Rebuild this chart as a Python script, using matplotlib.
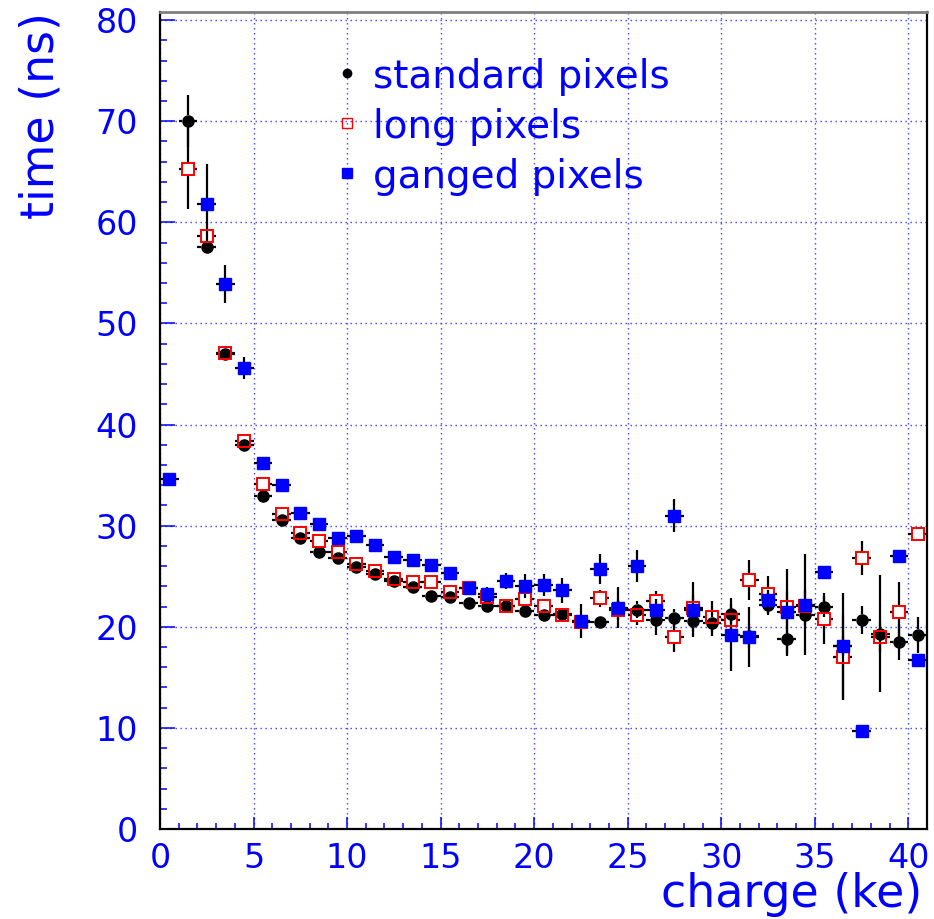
import numpy as np
import matplotlib
matplotlib.use("Agg")
import matplotlib.pyplot as plt
from matplotlib.collections import LineCollection
from matplotlib.ticker import MultipleLocator

# bin centres of the charge histogram (ke)
charge = [0.5, 1.5, 2.5, 3.5, 4.5, 5.5, 6.5, 7.5, 8.5, 9.5,
          10.5, 11.5, 12.5, 13.5, 14.5, 15.5, 16.5, 17.5, 18.5, 19.5,
          20.5, 21.5, 22.5, 23.5, 24.5, 25.5, 26.5, 27.5, 28.5, 29.5,
          30.5, 31.5, 32.5, 33.5, 34.5, 35.5, 36.5, 37.5, 38.5, 39.5,
          40.5]
nan = np.nan

# mean time (ns) and its error per bin
t_standard = [nan, 70.0, 57.6, 47.0, 38.0, 32.9, 30.6, 28.8, 27.4, 26.8,
              25.9, 25.2, 24.5, 23.9, 23.0, 22.9, 22.4, 22.1, 22.1, 21.6,
              21.2, 21.3, 20.6, 20.5, 21.8, 21.7, 20.7, 20.9, 20.6, 20.4,
              21.3, 19.1, 22.2, 18.8, 21.2, 22.0, 18.1, 20.7, 19.3, 18.5,
              19.2]
e_standard = [nan, 2.6, 0.5, 0.4, 0.3, 0.3, 0.3, 0.3, 0.3, 0.3,
              0.3, 0.3, 0.3, 0.3, 0.3, 0.4, 0.4, 0.4, 0.5, 0.5,
              0.5, 0.6, 0.6, 0.6, 0.7, 0.8, 1.5, 0.9, 1.0, 1.3,
              1.0, 1.2, 1.0, 1.7, 1.0, 1.0, 1.0, 1.4, 5.8, 1.8,
              1.8]

t_long = [nan, 65.3, 58.6, 47.1, 38.4, 34.1, 31.2, 29.3, 28.5, 27.4,
          26.2, 25.5, 24.7, 24.4, 24.4, 23.4, 23.8, 22.9, 22.1, 22.7,
          22.1, 21.2, 20.5, 22.8, 21.7, 21.2, 22.5, 19.0, 21.9, 21.0,
          20.7, 24.6, 23.2, 22.0, 22.1, 20.8, 17.0, 26.8, 19.0, 21.5,
          29.2]
e_long = [nan, 4.0, 0.6, 0.4, 0.3, 0.3, 0.3, 0.3, 0.3, 0.3,
          0.3, 0.3, 0.3, 0.3, 0.3, 0.4, 0.4, 0.4, 0.5, 0.5,
          0.6, 0.6, 0.7, 0.8, 1.0, 1.0, 1.0, 1.5, 1.2, 1.5,
          1.2, 2.0, 1.8, 1.5, 1.5, 2.5, 4.2, 1.7, 1.5, 2.9,
          0.5]

t_ganged = [34.6, nan, 61.8, 53.9, 45.6, 36.2, 34.0, 31.3, 30.2, 28.8,
            29.0, 28.1, 26.9, 26.6, 26.1, 25.3, 23.8, 23.2, 24.5, 24.0,
            24.1, 23.6, 20.6, 25.7, 21.9, 26.0, 21.7, 31.0, 21.7, nan,
            19.2, 19.0, 22.6, 21.5, 22.2, 25.4, 18.1, 9.7, nan, 27.0,
            16.7]
e_ganged = [0.3, nan, 4.0, 1.9, 1.1, 0.6, 0.6, 0.4, 0.4, 0.4,
            0.4, 0.4, 0.4, 0.4, 0.5, 0.6, 0.7, 0.7, 0.8, 1.2,
            1.1, 1.2, 1.7, 1.5, 2.0, 1.6, 1.0, 1.6, 2.7, nan,
            3.6, 3.0, 1.0, 4.2, 5.0, 0.5, 5.2, 0.3, nan, 0.5,
            0.5]

labels = ["standard pixels", "long pixels", "ganged pixels"]
bin_half_width = 0.5

blue = "#0000ff"
fontfam = ["DejaVu Sans"]

fig = plt.figure(figsize=(9.34, 9.19), dpi=100)
ax = fig.add_axes([160 / 934, 1 - 829 / 919, 767 / 934, 817 / 919])
ax.set_xlim(0, 41)
ax.set_ylim(0, 80.8)

# frame and ticks
for side in ["left", "bottom", "right"]:
    ax.spines[side].set_color("black")
    ax.spines[side].set_linewidth(1.6)
ax.spines["top"].set_color("#808080")
ax.spines["top"].set_linewidth(2.0)

ax.xaxis.set_major_locator(MultipleLocator(5))
ax.xaxis.set_minor_locator(MultipleLocator(1))
ax.yaxis.set_major_locator(MultipleLocator(10))
ax.yaxis.set_minor_locator(MultipleLocator(2))
ax.tick_params(axis="both", which="both", direction="in", color=blue,
               width=1.1, labelcolor=blue, labelsize=24)
ax.tick_params(axis="x", which="major", length=8.5, pad=9)
ax.tick_params(axis="x", which="minor", length=4.5)
ax.tick_params(axis="y", which="major", length=10.8, pad=16)
ax.tick_params(axis="y", which="minor", length=4.8)
for lab in ax.get_xticklabels() + ax.get_yticklabels():
    lab.set_family(fontfam)

ax.grid(True, which="major", color="#3c3cff", linewidth=1.0,
        linestyle=(0, (1, 2.6)))
ax.set_axisbelow(True)

# pixels per data unit, used to leave a gap in the error bars around markers
p0 = ax.transData.transform((0, 0))
p1 = ax.transData.transform((1, 1))
px_x, px_y = p1 - p0


def draw_series(y, err, gap_px, **mkw):
    x = np.array(charge, dtype=float)
    y = np.array(y, dtype=float)
    err = np.array(err, dtype=float)
    ok = ~np.isnan(y)
    x, y, err = x[ok], y[ok], err[ok]
    gx = gap_px / px_x
    gy = gap_px / px_y
    segs = []
    for xi, yi, ei in zip(x, y, err):
        segs.append([(xi - bin_half_width, yi), (xi - gx, yi)])
        segs.append([(xi + gx, yi), (xi + bin_half_width, yi)])
        if ei > gy:
            segs.append([(xi, yi - ei), (xi, yi - gy)])
            segs.append([(xi, yi + gy), (xi, yi + ei)])
    ax.add_collection(LineCollection(segs, colors="black", linewidths=1.6,
                                     zorder=3))
    ax.plot(x, y, linestyle="none", zorder=4, **mkw)


style_standard = dict(marker="o", ms=8, mfc="black", mec="black")
style_long = dict(marker="s", ms=8.5, mfc="none", mec="red", mew=1.4)
style_ganged = dict(marker="s", ms=8, mfc=blue, mec=blue)

draw_series(t_standard, e_standard, 6, **style_standard)
draw_series(t_long, e_long, 6, **style_long)
draw_series(t_ganged, e_ganged, 6, **style_ganged)

# legend
leg_styles = [dict(marker="o", ms=6, mfc="black", mec="black"),
              dict(marker="s", ms=6.5, mfc="none", mec="red", mew=1.0),
              dict(marker="s", ms=7, mfc=blue, mec=blue)]
leg_y = [0.925, 0.864, 0.803]
for lab, st, yy in zip(labels, leg_styles, leg_y):
    ax.plot([0.2438], [yy], transform=ax.transAxes, linestyle="none",
            zorder=5, **st)
    ax.text(0.278, yy, lab, transform=ax.transAxes, color=blue,
            fontsize=28, family=fontfam,
            ha="left", va="center_baseline")

# axis titles
fig.text(41 / 934, 1 - 12 / 919, "time (ns)", rotation=90, color=blue,
         fontsize=33, family=fontfam, ha="center", va="top")
fig.text(922 / 934, 1 - 917 / 919, "charge (ke)", color=blue,
         fontsize=33, family=fontfam, ha="right", va="bottom")

fig.savefig("out.png", dpi=100)
